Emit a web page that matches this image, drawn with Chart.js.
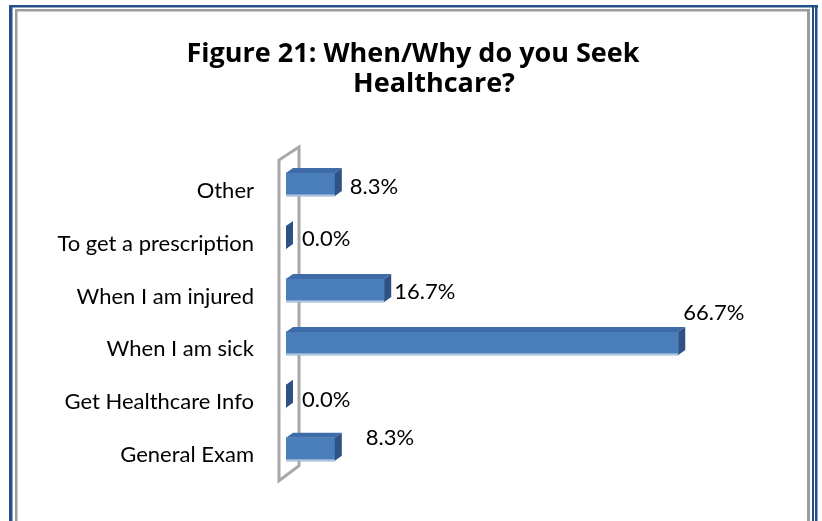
<!DOCTYPE html>
<html><head><meta charset="utf-8">
<script src="https://cdn.jsdelivr.net/npm/chart.js@4/dist/chart.umd.min.js"></script>
<style>html,body{margin:0;padding:0;background:#fff;overflow:hidden;}</style>
</head><body>
<canvas id="c" width="822" height="521"></canvas>
<script>
// ---- data ----
const categories = ['Other', 'To get a prescription', 'When I am injured', 'When I am sick', 'Get Healthcare Info', 'General Exam'];
const percentValues = [8.3, 0.0, 16.7, 66.7, 0.0, 8.3];
const valueLabels = ['8.3%', '0.0%', '16.7%', '66.7%', '0.0%', '8.3%'];
const titleLines = ['Figure 21: When/Why do you Seek', '      Healthcare?'];

// ---- styling ----
const FONT = 'Lato';
const TITLE_FONT = 'Open Sans';
const labelOffsets = [[15, 2], [16, 1], [10, 1], [5, -30], [16, 3.5], [31, -11.5]]; // relative to bar end / bar centre
const DEPTH_X = 7, DEPTH_Y = 5;

const framePlugin = {
  id: 'frame',
  beforeDraw(chart) {
    const ctx = chart.ctx;
    ctx.save();
    ctx.fillStyle = '#ffffff';
    ctx.fillRect(0, 0, chart.width, chart.height);
    ctx.fillStyle = '#24508A';
    ctx.fillRect(10, 5, 808, 2.5);
    ctx.fillRect(9, 5, 3.5, 516);
    ctx.fillRect(812, 5, 2, 516);
    ctx.fillRect(815, 5, 2.5, 516);
    ctx.fillStyle = '#9C9C9C';
    ctx.fillRect(15, 9, 795, 2.5);
    ctx.fillRect(15, 9, 2.5, 512);
    ctx.fillRect(807, 9, 3, 512);
    ctx.restore();
  }
};

const wallPlugin = {
  id: 'wall',
  beforeDatasetsDraw(chart) {
    const ctx = chart.ctx;
    const { left, top, bottom } = chart.chartArea;
    const x0 = left - 7, x1 = left + 13;
    ctx.save();
    ctx.strokeStyle = '#A8A8A8';
    ctx.lineWidth = 3;
    ctx.beginPath();
    ctx.moveTo(x0, bottom + 5);
    ctx.lineTo(x0, top + 2);
    ctx.lineTo(x1, top - 11);
    ctx.lineTo(x1, bottom - 10);
    ctx.closePath();
    ctx.stroke();
    ctx.restore();
  }
};

const facesPlugin = {
  id: 'faces',
  afterDatasetsDraw(chart) {
    const ctx = chart.ctx;
    const meta = chart.getDatasetMeta(0);
    ctx.save();
    meta.data.forEach((bar, i) => {
      const { x, y, base, height } = bar.getProps(['x', 'y', 'base', 'height'], true);
      const t = y - height / 2, b = y + height / 2;
      if (x > base) {
        ctx.fillStyle = '#3E6CA8';
        ctx.beginPath();
        ctx.moveTo(base, t);
        ctx.lineTo(base + DEPTH_X, t - DEPTH_Y);
        ctx.lineTo(x + DEPTH_X, t - DEPTH_Y);
        ctx.lineTo(x, t);
        ctx.closePath();
        ctx.fill();
        ctx.fillStyle = 'rgba(180,202,228,0.95)';
        ctx.fillRect(base, b - 1.5, x - base, 2);
      }
      ctx.fillStyle = '#2E5283';
      ctx.beginPath();
      ctx.moveTo(x, t);
      ctx.lineTo(x + DEPTH_X, t - DEPTH_Y);
      ctx.lineTo(x + DEPTH_X, b - DEPTH_Y);
      ctx.lineTo(x, b);
      ctx.closePath();
      ctx.fill();
    });
    // value labels
    ctx.fillStyle = '#000';
    ctx.font = '22px ' + FONT;
    ctx.textAlign = 'left';
    ctx.textBaseline = 'middle';
    meta.data.forEach((bar, i) => {
      const { x, y } = bar.getProps(['x', 'y'], true);
      const off = labelOffsets[i];
      ctx.fillText(valueLabels[i], x + off[0], y + off[1]);
    });
    ctx.restore();
  }
};

new Chart(document.getElementById('c'), {
  type: 'bar',
  data: {
    labels: categories,
    datasets: [{
      data: percentValues,
      backgroundColor: '#4A7EBB',
      borderWidth: 0,
      barThickness: 23
    }]
  },
  options: {
    indexAxis: 'y',
    responsive: false,
    animation: false,
    devicePixelRatio: 1,
    layout: { padding: { left: 26, right: 22, top: 0, bottom: 38 } },
    plugins: {
      legend: { display: false },
      tooltip: { enabled: false },
      title: {
        display: true,
        text: titleLines,
        color: '#000',
        font: { family: TITLE_FONT, size: 27, weight: 'bold', lineHeight: 1.111 },
        padding: { top: 39, bottom: 59 }
      }
    },
    scales: {
      x: { display: false, min: 0, max: 87.4 },
      y: {
        grid: { display: false, drawTicks: false },
        border: { display: false },
        ticks: { padding: 32, labelOffset: 6, color: '#000', font: { family: FONT, size: 22 } },
        afterFit(scale) { scale.width = 260; }
      }
    }
  },
  plugins: [framePlugin, wallPlugin, facesPlugin]
});
</script>
</body></html>
